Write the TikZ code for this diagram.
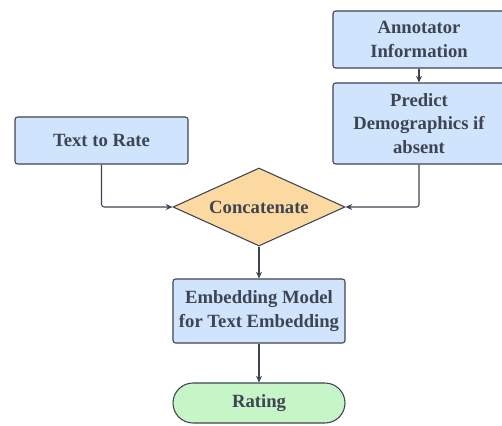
\documentclass[tikz,border=0pt]{standalone}
\usepackage{fontspec}
\setmainfont{Liberation Serif}
\usepackage{tikz}
\usetikzlibrary{shapes.geometric,arrows.meta}

\definecolor{boxblue}{HTML}{D0E4FD}
\definecolor{boxorange}{HTML}{FDD9A2}
\definecolor{boxgreen}{HTML}{C6F5C8}
\definecolor{inkgray}{HTML}{3E4452}

\begin{document}
\begin{tikzpicture}[x=0.75pt,y=-0.75pt]
        \useasboundingbox (0,0) rectangle (502,425);
        \begin{scope}[every node/.style={draw=inkgray, line width=0.8pt, text=inkgray, font=\fontsize{14}{17.5}\selectfont\bfseries, align=center, inner sep=0pt}]
                \node [fill=boxblue, rounded corners=2pt, minimum width=129pt, minimum height=42.75pt] (Ann) at (419,39.5) {Annotator\\Information};
                \node [fill=boxblue, rounded corners=2pt, minimum width=129pt, minimum height=60.75pt] (Pred) at (419,123.5) {Predict\\Demographics if\\absent};
                \node [fill=boxblue, rounded corners=2pt, minimum width=129.75pt, minimum height=35.25pt] (Txt) at (101.5,140.5) {Text to Rate};
                \node [fill=boxorange, diamond, aspect=2.2, minimum width=129pt, minimum height=58.5pt] (Cat) at (259,207) {Concatenate};
                \node [fill=boxblue, rounded corners=2pt, minimum width=129pt, minimum height=48pt] (Emb) at (259,311) {Embedding Model\\for Text Embedding};
                \node [fill=boxgreen, rounded corners=15pt, minimum width=129pt, minimum height=30pt] (Rat) at (259,403) {Rating};
        \end{scope}
        \begin{scope}[every path/.style={draw=inkgray, line width=0.8pt, -{Stealth[length=5pt,width=4.5pt]}, rounded corners=2pt}]
                \path (Ann) edge (Pred);
                \draw (Txt.south) |- (Cat.west);
                \draw (Pred.south) |- (Cat.east);
                \path (Cat) edge (Emb);
                \path (Emb) edge (Rat);
        \end{scope}
\end{tikzpicture}
\end{document}
